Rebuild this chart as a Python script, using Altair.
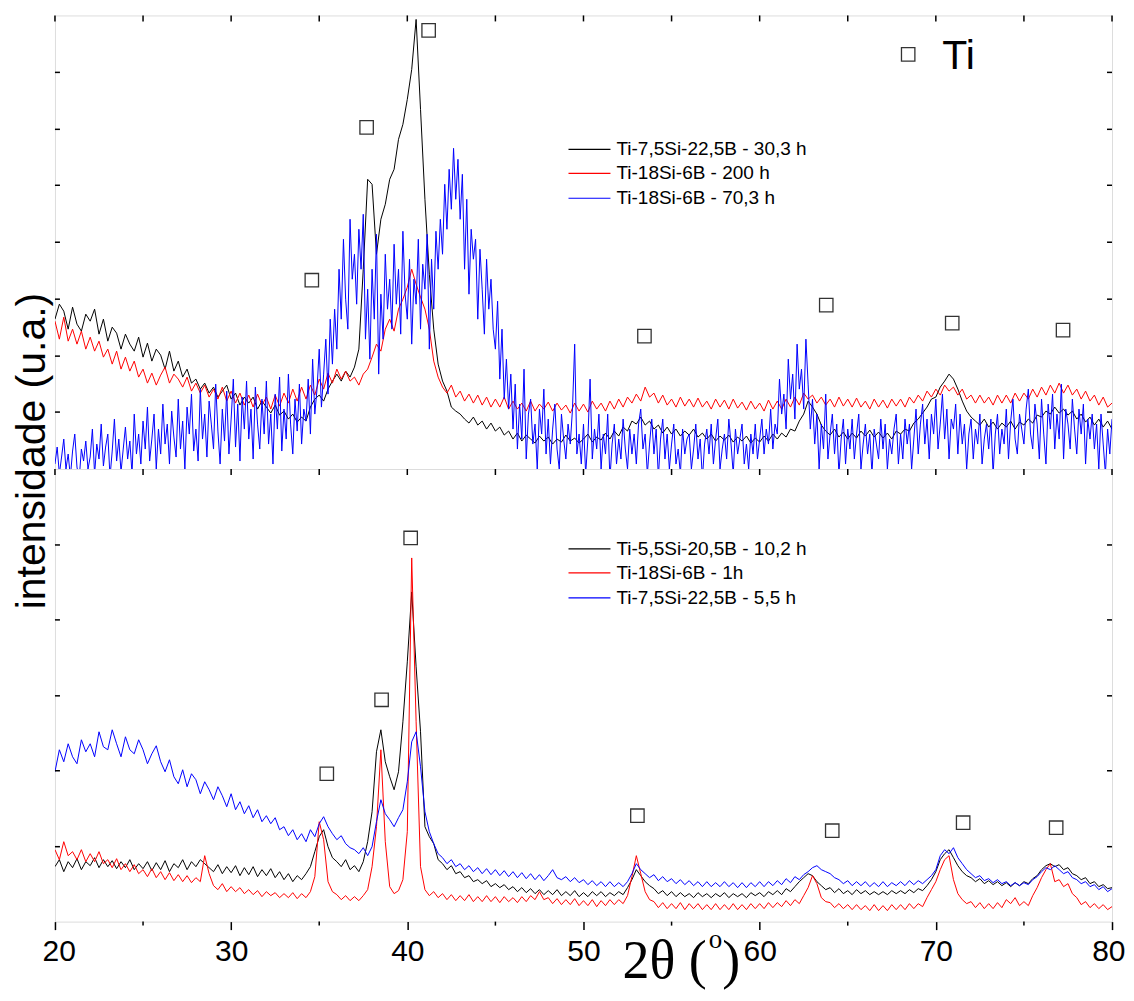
import altair as alt
import pandas as pd

# 2-theta sampling grids (degrees)
two_theta = [round(20 + 0.25 * i, 3) for i in range(241)]        # 0.25 deg step
two_theta_fine = [round(20 + 0.125 * i, 3) for i in range(481)]  # 0.125 deg step

# ---------------- TOP PANEL (intensity, arbitrary units) ----------------
top_black = [
    150, 165, 158, 140,   # 20
    162, 145, 138, 155,   # 21
    148, 160, 135, 150,   # 22
    128, 142, 136, 120,   # 23
    135, 125, 118, 132,   # 24
    112, 126, 108, 120,   # 25
    114, 100, 118, 98,    # 26
    108, 92, 100, 86,     # 27
    90, 80, 86, 76,       # 28
    82, 72, 78, 84,       # 29
    70, 76, 64, 72,       # 30
    66, 72, 60, 68,       # 31
    62, 56, 64, 54,       # 32
    58, 50, 55, 47,       # 33
    52, 48, 62, 70,       # 34
    74, 68, 80, 88,       # 35
    95, 88, 98, 92,       # 36
    102, 120, 200, 290,   # 37
    285, 215, 250, 265,   # 38
    290, 300, 330, 345,   # 39
    370, 400, 450, 360,   # 40
    270, 195, 140, 105,   # 41
    88, 78, 62, 58,       # 42
    55, 50, 46, 52,       # 43
    44, 48, 40, 46,       # 44
    38, 42, 34, 38,       # 45
    30, 36, 28, 34,       # 46
    30, 26, 33, 28,       # 47
    32, 25, 30, 27,       # 48
    34, 28, 31, 26,       # 49
    30, 35, 27, 32,       # 50
    29, 36, 30, 38,       # 51
    33, 42, 38, 48,       # 52
    45, 52, 44, 48,       # 53
    40, 44, 36, 42,       # 54
    35, 40, 33, 38,       # 55
    34, 40, 32, 36,       # 56
    30, 35, 28, 33,       # 57
    29, 34, 27, 32,       # 58
    28, 33, 26, 31,       # 59
    27, 33, 28, 35,       # 60
    30, 36, 32, 40,       # 61
    38, 48, 55, 68,       # 62
    62, 55, 44, 38,       # 63
    34, 40, 32, 37,       # 64
    30, 36, 31, 38,       # 65
    33, 39, 32, 37,       # 66
    31, 36, 30, 38,       # 67
    35, 40, 38, 46,       # 68
    50, 56, 62, 70,       # 69
    72, 82, 88, 95,       # 70
    90, 80, 68, 58,       # 71
    52, 48, 44, 50,       # 72
    42, 47, 40, 46,       # 73
    42, 48, 40, 47,       # 74
    44, 50, 46, 54,       # 75
    52, 58, 55, 62,       # 76
    56, 60, 54, 58,       # 77
    50, 55, 47, 52,       # 78
    44, 50, 42, 48,       # 79
    40,                   # 80
]

top_red = [
    148, 130, 152, 128,   # 20
    140, 125, 138, 120,   # 21
    132, 118, 128, 112,   # 22
    120, 105, 118, 100,   # 23
    112, 98, 108, 92,     # 24
    100, 86, 96, 84,      # 25
    94, 102, 86, 95,      # 26
    90, 82, 92, 78,       # 27
    86, 76, 84, 72,       # 28
    80, 70, 82, 68,       # 29
    78, 66, 76, 64,       # 30
    74, 62, 75, 64,       # 31
    72, 60, 74, 63,       # 32
    76, 66, 80, 68,       # 33
    82, 70, 84, 74,       # 34
    90, 80, 96, 86,       # 35
    100, 90, 98, 88,      # 36
    92, 84, 95, 100,      # 37
    112, 125, 118, 140,   # 38
    150, 138, 160, 170,   # 39
    182, 200, 185, 172,   # 40
    160, 140, 108, 92,    # 41
    82, 76, 84, 72,       # 42
    78, 68, 75, 66,       # 43
    74, 64, 72, 62,       # 44
    70, 62, 72, 60,       # 45
    68, 60, 66, 58,       # 46
    68, 58, 65, 60,       # 47
    67, 58, 66, 59,       # 48
    64, 56, 66, 58,       # 49
    65, 57, 68, 60,       # 50
    66, 58, 68, 60,       # 51
    70, 62, 72, 66,       # 52
    75, 68, 82, 72,       # 53
    76, 66, 74, 64,       # 54
    70, 62, 72, 63,       # 55
    70, 62, 71, 62,       # 56
    68, 60, 70, 62,       # 57
    69, 60, 70, 61,       # 58
    67, 59, 68, 60,       # 59
    66, 58, 69, 60,       # 60
    68, 60, 70, 62,       # 61
    72, 64, 76, 70,       # 62
    74, 66, 72, 64,       # 63
    70, 62, 72, 63,       # 64
    70, 62, 71, 62,       # 65
    68, 60, 70, 62,       # 66
    69, 61, 70, 63,       # 67
    70, 62, 72, 66,       # 68
    74, 68, 78, 72,       # 69
    80, 74, 84, 78,       # 70
    82, 74, 80, 70,       # 71
    74, 66, 74, 66,       # 72
    72, 64, 74, 66,       # 73
    74, 66, 76, 68,       # 74
    76, 70, 80, 72,       # 75
    82, 74, 84, 76,       # 76
    86, 76, 84, 74,       # 77
    80, 70, 78, 68,       # 78
    74, 64, 72, 62,       # 79
    66,                   # 80
]

# sampled on the 0.125 deg grid
top_blue = [
    5, 22, -5, 12, 30, 0, 15, -8,            # 20
    18, 35, 2, -10, 20, 8, 28, 0,            # 21
    12, 40, -5, 25, 10, 45, 3, 22,           # 22
    35, -8, 18, 50, 8, 30, -3, 20,           # 23
    42, 10, 28, -5, 55, 15, 35, 5,           # 24
    48, 20, 62, 8, 30, 55, 0, 40,            # 25
    15, 65, 25, 45, 5, 58, 32, 12,           # 26
    70, 20, 48, 0, 62, 35, 75, 18,           # 27
    40, 8, 80, 30, 55, 12, 68, 45,           # 28
    20, 85, 38, 5, 60, 28, 78, 15,           # 29
    50, 90, 22, 65, 8, 72, 40, 88,           # 30
    30, 60, 10, 82, 45, 20, 70, 35,          # 31
    88, 25, 55, 5, 75, 40, 92, 18,           # 32
    60, 30, 95, 45, 15, 70, 38, 85,          # 33
    25, 60, 48, 90, 35, 110, 55, 80,         # 34
    120, 62, 95, 130, 75, 150, 105, 160,     # 35
    120, 200, 150, 230, 170, 140, 250, 190,  # 36
    215, 165, 240, 200, 255, 130, 180, 110,  # 37
    200, 150, 235, 95, 175, 130, 215, 160,   # 38
    190, 140, 225, 165, 200, 135, 238, 175,  # 39
    150, 210, 125, 190, 165, 230, 140, 205,  # 40
    180, 235, 120, 210, 160, 238, 200, 250,  # 41
    215, 285, 240, 300, 260, 321, 270, 310,  # 42
    250, 295, 200, 270, 175, 240, 210, 230,  # 43
    150, 220, 180, 135, 210, 160, 190, 140,  # 44
    120, 168, 90, 140, 70, 110, 60, 95,      # 45
    40, 85, 20, 65, 30, 100, 10, 55,         # 46
    70, 25, 45, 0, 60, 35, 80, 15,           # 47
    50, 5, 40, 65, 20, 0, 55, 30,            # 48
    10, 45, 25, 60, 125, 15, 35, 5,          # 49
    45, -5, 30, 90, 10, 40, 20, 55,          # 50
    0, 35, 15, 55, -10, 25, 45, 5,           # 51
    30, 10, 50, 20, 0, 40, 15, 35,           # 52
    5, 45, 60, 20, 35, -5, 25, 50,           # 53
    15, 40, -8, 30, 50, 10, 35, 0,           # 54
    25, 45, 5, 20, -5, 40, 15, 30,           # 55
    35, 0, 20, 45, 10, 30, -10, 25,          # 56
    40, 15, 45, 5, 30, 50, 0, 20,            # 57
    35, 10, 50, 25, -5, 40, 15, 30,          # 58
    45, 5, 25, 0, 35, 15, 45, 10,            # 59
    30, 50, 15, 40, 25, 60, 20, 45,          # 60
    35, 90, 55, 75, 40, 110, 70, 95,         # 61
    50, 125, 80, 100, 60, 130, 85, 40,       # 62
    70, 25, 55, 0, 45, 20, 75, 10,           # 63
    35, 55, 15, 45, -5, 30, 50, 5,           # 64
    40, 20, 50, 10, 35, 55, 0, 25,           # 65
    45, 15, 35, -5, 40, 25, 10, 50,          # 66
    20, 45, 0, 30, 15, 40, 55, 5,            # 67
    35, 10, 50, 25, 45, 0, 30, 60,           # 68
    15, 45, 65, 25, 50, 10, 55, 35,          # 69
    70, 20, 45, 75, 30, 60, 10, 50,          # 70
    40, 65, 15, 55, 25, 45, 0, 35,           # 71
    50, 10, 40, 25, 55, 5, 30, 45,           # 72
    20, 50, -5, 35, 55, 15, 40, 25,          # 73
    60, 10, 48, 70, 30, 15, 55, 40,          # 74
    25, 60, 80, 35, 20, 65, 45, 10,          # 75
    70, 35, 5, 65, 40, 75, 20, 55,           # 76
    30, 85, 10, 60, 45, 20, 70, 40,          # 77
    15, 60, 35, 65, 5, 50, 30, 55,           # 78
    20, 45, 0, 55, 25, -5, 40, 15,           # 79
    50,                                      # 80
]

# ---------------- BOTTOM PANEL ----------------
bot_black = [
    55, 62, 50, 60,       # 20
    54, 63, 52, 60,       # 21
    56, 64, 54, 62,       # 22
    55, 61, 53, 60,       # 23
    54, 62, 52, 58,       # 24
    53, 60, 51, 59,       # 25
    52, 61, 50, 58,       # 26
    54, 62, 52, 60,       # 27
    55, 62, 58, 54,       # 28
    50, 57, 48, 55,       # 29
    49, 56, 46, 54,       # 30
    47, 55, 45, 52,       # 31
    46, 53, 44, 50,       # 32
    42, 48, 40, 46,       # 33
    42, 48, 55, 70,       # 34
    85, 92, 75, 64,       # 35
    60, 55, 62, 52,       # 36
    56, 50, 60, 80,       # 37
    110, 170, 192, 160,   # 38
    145, 132, 150, 200,   # 39
    260, 330, 255, 190,   # 40
    95, 85, 78, 62,       # 41
    58, 52, 56, 48,       # 42
    50, 44, 46, 40,       # 43
    42, 38, 41, 35,       # 44
    38, 34, 37, 32,       # 45
    35, 30, 34, 29,       # 46
    33, 28, 32, 27,       # 47
    31, 27, 32, 26,       # 48
    30, 26, 31, 25,       # 49
    29, 25, 30, 26,       # 50
    30, 25, 29, 26,       # 51
    30, 27, 34, 42,       # 52
    52, 46, 40, 36,       # 53
    33, 28, 31, 26,       # 54
    30, 25, 29, 25,       # 55
    28, 24, 29, 25,       # 56
    28, 24, 28, 25,       # 57
    29, 24, 28, 25,       # 58
    28, 24, 29, 26,       # 59
    29, 25, 30, 27,       # 60
    31, 27, 33, 30,       # 61
    35, 40, 44, 48,       # 62
    46, 40, 36, 32,       # 63
    34, 29, 33, 28,       # 64
    31, 27, 32, 28,       # 65
    31, 27, 30, 27,       # 66
    30, 27, 31, 28,       # 67
    31, 28, 32, 29,       # 68
    33, 31, 36, 42,       # 69
    50, 62, 68, 72,       # 70
    64, 56, 50, 46,       # 71
    44, 40, 43, 38,       # 72
    41, 37, 40, 36,       # 73
    39, 35, 39, 36,       # 74
    40, 38, 43, 46,       # 75
    52, 56, 58, 55,       # 76
    57, 52, 54, 48,       # 77
    46, 42, 44, 38,       # 78
    40, 35, 37, 33,       # 79
    34,                   # 80
]

bot_red = [
    72, 62, 80, 66,       # 20
    70, 62, 72, 60,       # 21
    68, 60, 70, 58,       # 22
    62, 54, 63, 52,       # 23
    58, 50, 57, 48,       # 24
    52, 45, 53, 44,       # 25
    50, 42, 49, 41,       # 26
    47, 40, 46, 39,       # 27
    44, 40, 66, 48,       # 28
    36, 32, 38, 30,       # 29
    35, 30, 34, 28,       # 30
    32, 27, 31, 25,       # 31
    30, 26, 29, 24,       # 32
    28, 24, 29, 23,       # 33
    28, 24, 30, 45,       # 34
    100, 82, 40, 30,      # 35
    27, 22, 26, 21,       # 36
    25, 21, 26, 32,       # 37
    55, 95, 172, 80,      # 38
    35, 28, 31, 42,       # 39
    90, 364, 200, 55,     # 40
    32, 26, 30, 24,       # 41
    28, 22, 27, 21,       # 42
    26, 21, 27, 20,       # 43
    25, 20, 26, 20,       # 44
    25, 19, 25, 20,       # 45
    24, 19, 25, 20,       # 46
    26, 22, 30, 22,       # 47
    24, 18, 23, 17,       # 48
    22, 17, 23, 16,       # 49
    21, 16, 22, 15,       # 50
    21, 16, 22, 17,       # 51
    22, 18, 26, 45,       # 52
    66, 48, 30, 22,       # 53
    20, 14, 19, 13,       # 54
    18, 13, 19, 12,       # 55
    18, 13, 18, 12,       # 56
    17, 12, 18, 12,       # 57
    17, 12, 18, 12,       # 58
    17, 12, 18, 13,       # 59
    18, 13, 19, 14,       # 60
    19, 15, 21, 16,       # 61
    22, 18, 26, 34,       # 62
    46, 38, 24, 20,       # 63
    19, 14, 18, 13,       # 64
    17, 12, 17, 12,       # 65
    16, 11, 17, 11,       # 66
    16, 11, 17, 12,       # 67
    17, 12, 18, 13,       # 68
    18, 15, 24, 32,       # 69
    40, 52, 62, 66,       # 70
    42, 28, 22, 18,       # 71
    20, 14, 19, 13,       # 72
    18, 13, 19, 14,       # 73
    22, 18, 24, 16,       # 74
    20, 16, 26, 34,       # 75
    44, 52, 58, 40,       # 76
    42, 35, 38, 28,       # 77
    24, 17, 20, 14,       # 78
    18, 13, 17, 12,       # 79
    15,                   # 80
]

bot_blue = [
    150, 172, 160, 178,   # 20
    165, 158, 182, 170,   # 21
    178, 165, 190, 175,   # 22
    172, 192, 178, 165,   # 23
    185, 172, 168, 182,   # 24
    172, 158, 168, 176,   # 25
    160, 150, 162, 145,   # 26
    138, 152, 135, 148,   # 27
    142, 128, 140, 132,   # 28
    122, 135, 126, 115,   # 29
    128, 112, 120, 108,   # 30
    116, 104, 112, 100,   # 31
    106, 98, 104, 92,     # 32
    95, 86, 92, 82,       # 33
    88, 80, 92, 85,       # 34
    98, 105, 95, 88,      # 35
    82, 86, 78, 74,       # 36
    72, 68, 74, 66,       # 37
    75, 100, 122, 108,    # 38
    102, 95, 104, 112,    # 39
    140, 180, 190, 155,   # 40
    110, 90, 78, 68,      # 41
    64, 58, 62, 55,       # 42
    58, 52, 56, 50,       # 43
    54, 48, 53, 47,       # 44
    52, 46, 51, 45,       # 45
    50, 44, 49, 43,       # 46
    48, 42, 47, 41,       # 47
    46, 52, 44, 42,       # 48
    45, 40, 44, 39,       # 49
    42, 37, 41, 36,       # 50
    40, 35, 40, 35,       # 51
    39, 35, 40, 48,       # 52
    58, 52, 48, 44,       # 53
    47, 41, 45, 40,       # 54
    43, 38, 42, 37,       # 55
    41, 36, 40, 35,       # 56
    40, 35, 39, 35,       # 57
    40, 35, 39, 34,       # 58
    39, 34, 39, 35,       # 59
    40, 35, 40, 36,       # 60
    41, 37, 43, 39,       # 61
    45, 42, 47, 50,       # 62
    54, 56, 52, 50,       # 63
    48, 44, 42, 38,       # 64
    41, 36, 40, 36,       # 65
    40, 35, 39, 35,       # 66
    40, 35, 39, 36,       # 67
    40, 36, 41, 37,       # 68
    41, 38, 42, 46,       # 69
    52, 66, 72, 68,       # 70
    74, 64, 58, 52,       # 71
    48, 44, 46, 41,       # 72
    43, 39, 42, 38,       # 73
    40, 36, 39, 36,       # 74
    39, 37, 42, 45,       # 75
    50, 54, 52, 56,       # 76
    52, 48, 50, 44,       # 77
    42, 38, 40, 35,       # 78
    37, 32, 35, 30,       # 79
    33,                   # 80
]

# Ti peak markers (open squares)
top_marker_theta = [34.58, 37.69, 41.21, 53.46, 63.78, 70.93, 77.22, 68.43]
top_marker_int = [189, 342, 439, 133, 164, 146, 139, 415]
bot_marker_theta = [35.43, 38.54, 40.19, 53.06, 64.12, 71.55, 76.83]
bot_marker_int = [148, 222, 384, 106, 91, 99, 94]

top_names = ["Ti-7,5Si-22,5B - 30,3 h", "Ti-18Si-6B - 200 h", "Ti-18Si-6B - 70,3 h"]
bot_names = ["Ti-5,5Si-20,5B - 10,2 h", "Ti-18Si-6B - 1h", "Ti-7,5Si-22,5B - 5,5 h"]
line_colors = ["#000000", "#ff0000", "#0000ff"]

x_major = [20, 30, 40, 50, 60, 70, 80]
x_minor = [25, 35, 45, 55, 65, 75]
top_y_ticks = [57, 113, 170, 227, 284, 340, 397]
bot_y_ticks = [75, 151, 226, 302, 377]

y_title = "intensidade (u.a.)"
ti_label = "Ti"
ti_label_theta = [70.36]
ti_label_int = [400]

for s in (top_black, top_red, bot_black, bot_red, bot_blue):
    assert len(s) == len(two_theta), len(s)
assert len(top_blue) == len(two_theta_fine), len(top_blue)

# ---------------- chart ----------------
W, H_TOP, H_BOT = 1058, 454, 453
FONT = "Liberation Sans"
SERIF = "Liberation Serif"

xscale = alt.Scale(domain=[20, 80], nice=False, zero=False)

bottom_axis = alt.Axis(values=x_major, tickSize=8, tickWidth=1.5, tickColor="black",
                       domain=False, grid=False, labelFontSize=30, labelFont=FONT,
                       labelColor="black", labelPadding=7, labelFlush=True,
                       labelFlushOffset=13, labelOverlap=False, title=None)


def panel(series, names, mx, my, yticks, height, xaxis, legend_rows):
    X = alt.X("two_theta:Q", scale=xscale, axis=xaxis)
    Y = alt.Y("intensity:Q", scale=alt.Scale(domain=[0, height], nice=False, zero=False), axis=None)
    layers = []
    for (xs, vals), color in zip(series, line_colors):
        df = pd.DataFrame({"two_theta": xs, "intensity": vals})
        layers.append(alt.Chart(df).mark_line(color=color, strokeWidth=1, clip=True).encode(x=X, y=Y))
    mk = pd.DataFrame({"two_theta": mx, "intensity": my})
    layers.append(alt.Chart(mk).mark_point(shape="square", size=180, filled=False, color="#333333",
                                           strokeWidth=1.3, opacity=1).encode(x=X, y=Y))
    # ticks on top edge (pointing inward)
    layers.append(alt.Chart(pd.DataFrame({"two_theta": x_major + x_minor})).mark_rule(
        color="black", strokeWidth=1.5).encode(x=X, y=alt.value(0), y2=alt.value(6)))
    # left / right ticks
    yt = pd.DataFrame({"intensity": yticks})
    layers.append(alt.Chart(yt).mark_rule(color="black", strokeWidth=1.5).encode(
        y=Y, x=alt.value(0), x2=alt.value(5)))
    layers.append(alt.Chart(yt).mark_rule(color="black", strokeWidth=1.5).encode(
        y=Y, x=alt.value(W - 5), x2=alt.value(W)))
    # legend
    for name, color, yy in zip(names, line_colors, legend_rows):
        d = pd.DataFrame({"label": [name]})
        layers.append(alt.Chart(d).mark_rule(color=color, strokeWidth=1.2).encode(
            x=alt.value(514), x2=alt.value(556), y=alt.value(yy)))
        layers.append(alt.Chart(d).mark_text(align="left", baseline="middle", fontSize=19,
                                             font=FONT, color="black").encode(
            x=alt.value(562), y=alt.value(yy), text="label:N"))
    return layers, X, Y


top_layers, Xt, Yt = panel([(two_theta, top_black), (two_theta, top_red), (two_theta_fine, top_blue)],
                           top_names, top_marker_theta, top_marker_int, top_y_ticks, H_TOP, None,
                           [134, 158, 183])
top_layers.append(alt.Chart(pd.DataFrame({"two_theta": ti_label_theta, "intensity": ti_label_int,
                                          "label": [ti_label]})).mark_text(
    align="left", baseline="alphabetic", fontSize=41, font=FONT, color="black").encode(
    x=Xt, y=Yt, text="label:N"))
top_layers.append(alt.Chart(pd.DataFrame({"label": [y_title]})).mark_text(
    angle=270, align="center", baseline="alphabetic", fontSize=41, font=FONT, color="black").encode(
    x=alt.value(-10), y=alt.value(436), text="label:N"))
top = alt.layer(*top_layers).properties(width=W, height=H_TOP)

bot_layers, Xb, Yb = panel([(two_theta, bot_black), (two_theta, bot_red), (two_theta, bot_blue)],
                           bot_names, bot_marker_theta, bot_marker_int, bot_y_ticks, H_BOT,
                           bottom_axis, [80, 104, 129])
# minor ticks on bottom axis (outward)
bot_layers.append(alt.Chart(pd.DataFrame({"two_theta": x_minor})).mark_rule(
    color="black", strokeWidth=1.5).encode(x=Xb, y=alt.value(H_BOT), y2=alt.value(H_BOT + 4)))
# x title: 2θ (°)
for txt, xx, yy, fs, al in [("2θ (", 568, 509, 54, "left"), ("o", 661, 479, 27, "center"),
                            (")", 668, 509, 54, "left")]:
    bot_layers.append(alt.Chart(pd.DataFrame({"label": [txt]})).mark_text(
        align=al, baseline="alphabetic", fontSize=fs, font=SERIF, color="black").encode(
        x=alt.value(xx), y=alt.value(yy), text="label:N"))
bot = alt.layer(*bot_layers).properties(width=W, height=H_BOT)

chart = alt.vconcat(top, bot, spacing=0, bounds="flush").resolve_scale(y="independent").properties(
    padding={"left": 3, "top": 5, "right": 0, "bottom": 0}
).configure_view(stroke="black", strokeWidth=1.5).configure(background="white")

chart.save("out.html", embed_options={"renderer": "svg", "actions": False})
